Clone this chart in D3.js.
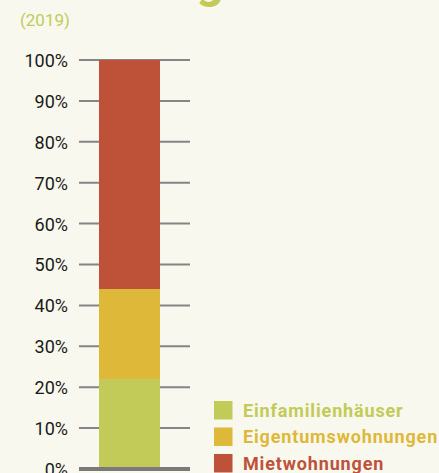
<!DOCTYPE html>
<html><head><meta charset="utf-8">
<script src="https://cdn.jsdelivr.net/npm/d3@7"></script>
<style>body{margin:0;background:#f8f8ee;}svg{display:block;}</style>
</head><body>
<script>
const categories = ["Einfamilienhäuser", "Eigentumswohnungen", "Mietwohnungen"];
const values = [22, 22, 56];
const colors = ["#c2cb58", "#deb838", "#be5239"];
const tickValues = [0,10,20,30,40,50,60,70,80,90,100];
const subtitle = "(2019)";

const W = 439, H = 473;
const svg = d3.select("body").append("svg").attr("width", W).attr("height", H);
svg.append("rect").attr("width", W).attr("height", H).attr("fill", "#f8f8ee");

// cut-off title descender
svg.append("text").attr("x", 210).attr("y", -3).attr("text-anchor", "middle")
  .attr("font-family", "Roboto, sans-serif").attr("font-weight", 700).attr("font-size", 48)
  .attr("fill", "#c2cb58").text("g");

svg.append("text").attr("x", 20).attr("y", 26)
  .attr("font-family", "Roboto, sans-serif").attr("font-size", 17)
  .attr("fill", "#c2cb58").text(subtitle);

const y = d3.scaleLinear().domain([0, 100]).range([469, 60]);
const x0 = 79, x1 = 190, barL = 99, barR = 160;

// gridlines
svg.append("g").selectAll("line").data(tickValues.filter(d => d > 0)).join("line")
  .attr("x1", x0).attr("x2", x1).attr("y1", d => y(d)).attr("y2", d => y(d))
  .attr("stroke", "#858585").attr("stroke-width", 2);

// stacked bar
const stack = [];
let acc = 0;
values.forEach((v, i) => { stack.push({c: categories[i], y0: acc, y1: acc + v, color: colors[i]}); acc += v; });
svg.append("g").selectAll("rect").data(stack).join("rect")
  .attr("x", barL).attr("width", barR - barL)
  .attr("y", d => y(d.y1)).attr("height", d => y(d.y0) - y(d.y1))
  .attr("fill", d => d.color);

// baseline
svg.append("line").attr("x1", x0).attr("x2", x1).attr("y1", y(0)).attr("y2", y(0))
  .attr("stroke", "#7a7a7a").attr("stroke-width", 4);

// axis labels
const axis = d3.axisLeft(y).tickValues(tickValues).tickFormat(d => d + "%").tickSize(0).tickPadding(0);
const ag = svg.append("g").attr("transform", "translate(68,0)").call(axis);
ag.select(".domain").remove();
ag.selectAll("text").attr("font-family", "Roboto, sans-serif").attr("font-size", 18)
  .attr("fill", "#1a1a1a").attr("dy", "0.36em");

// legend
const lg = svg.append("g").selectAll("g").data(categories).join("g")
  .attr("transform", (d, i) => `translate(214,${401 + i * 26.5})`);
lg.append("rect").attr("width", 18.5).attr("height", 18.5).attr("fill", (d, i) => colors[i]);
lg.append("text").attr("x", 29).attr("y", 9.5).attr("dy", "0.36em")
  .attr("font-family", "Roboto, sans-serif").attr("font-weight", 700).attr("font-size", 18)
  .attr("letter-spacing", 0.85)
  .attr("fill", (d, i) => colors[i]).text(d => d);
</script>
</body></html>
